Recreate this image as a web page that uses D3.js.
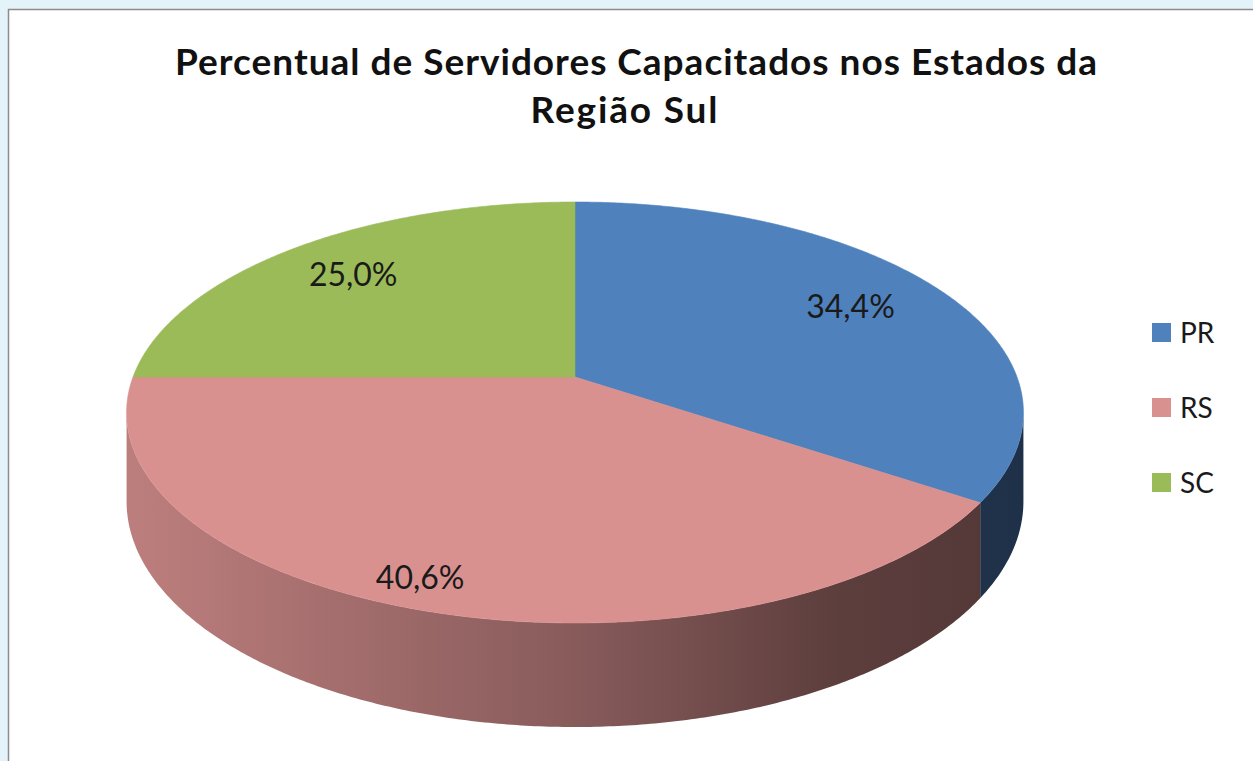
<!DOCTYPE html>
<html>
<head>
<meta charset="utf-8">
<script src="https://cdn.jsdelivr.net/npm/d3@7"></script>
<style>
  html, body { margin: 0; padding: 0; background: #e4f2fa; }
  svg { display: block; }
</style>
</head>
<body>
<svg id="chart" width="1253" height="761"></svg>
<script>
// dados do gráfico
const categories = ["PR", "RS", "SC"];
const values = [34.4, 40.6, 25.0];
const labels = ["34,4%", "40,6%", "25,0%"];
const colors = ["#4f81bd", "#d99190", "#9bbb59"];
const titleLines = ["Percentual de Servidores Capacitados nos Estados da", "Região Sul"];

const width = 1253, height = 761;
const svg = d3.select("#chart");

// fundo / área do gráfico
svg.append("rect").attr("x", 8.5).attr("y", 9.5).attr("width", width).attr("height", height)
   .attr("fill", "#ffffff").attr("stroke", "#8c8c8c").attr("stroke-width", 1.5);

// título
const titleFit = [[636, 75, 922], [624, 123, 187]];
titleLines.forEach((t, i) => {
  svg.append("text")
     .attr("x", titleFit[i][0]).attr("y", titleFit[i][1])
     .attr("text-anchor", "middle")
     .attr("font-family", "Lato, 'Open Sans', sans-serif")
     .attr("font-weight", "bold")
     .attr("font-size", 37)
     .attr("textLength", titleFit[i][2])
     .attr("lengthAdjust", "spacing")
     .attr("fill", "#111")
     .text(t);
});

// projeção em perspectiva do disco
const cx = 575, cy = 377, RX = 442, KY = 204.5, D = 5.93, H = 86.5;
function project(a, r, z) {
  const u = Math.sin(a) * r, v = -Math.cos(a) * r;
  const s = D / (D - v);
  return [cx + RX * u * s, cy + KY * v * s + z * H * s];
}
// ângulos da silhueta lateral (x extremo)
const aS = Math.acos(-1 / D), aE = 2 * Math.PI - aS;

const pie = d3.pie().sort(null).value(d => d)(values);

const defs = svg.append("defs");
colors.forEach((c, i) => {
  const g = defs.append("linearGradient").attr("id", "side" + i)
    .attr("gradientUnits", "userSpaceOnUse")
    .attr("x1", cx - RX).attr("x2", cx + RX).attr("y1", 0).attr("y2", 0);
  g.append("stop").attr("offset", "0%").attr("stop-color", d3.color(c).darker(0.4));
  g.append("stop").attr("offset", "50%").attr("stop-color", d3.color(c).darker(1.3));
  g.append("stop").attr("offset", "80%").attr("stop-color", d3.color(c).darker(2.4));
  g.append("stop").attr("offset", "100%").attr("stop-color", d3.color(c).darker(2.7));
});

const line = d3.line();
const step = Math.PI / 360;
function arcPts(a0, a1, r, z) {
  const n = Math.max(2, Math.ceil((a1 - a0) / step));
  return d3.range(n + 1).map(k => project(a0 + (a1 - a0) * k / n, r, z));
}

// paredes laterais: apenas a parte frontal de cada fatia
function sidePath(p) {
  const a0 = Math.max(p.startAngle, aS), a1 = Math.min(p.endAngle, aE);
  if (a1 <= a0) return null;
  const pts = arcPts(a0, a1, 1, 0).concat(arcPts(a0, a1, 1, 1).reverse());
  return line(pts) + "Z";
}
svg.append("g").selectAll("path").data(pie).join("path")
   .attr("d", sidePath)
   .attr("fill", (d, i) => "url(#side" + i + ")");

// faces superiores
function topPath(p) {
  return line([project(0, 0, 0)].concat(arcPts(p.startAngle, p.endAngle, 1, 0))) + "Z";
}
svg.append("g").selectAll("path").data(pie).join("path")
   .attr("d", topPath)
   .attr("fill", (d, i) => colors[i])
   .attr("stroke", (d, i) => colors[i])
   .attr("stroke-width", 0.6);

// rótulos de dados
svg.append("g").selectAll("text").data(pie).join("text")
   .attr("transform", d => {
     const m = (d.startAngle + d.endAngle) / 2;
     const r = 0.76 + 0.14 * Math.max(0, -Math.cos(m));
     const [x, y] = project(m + 0.04 * Math.max(0, -Math.cos(m)), r, 0);
     return `translate(${x - 4},${y - 1})`;
   })
   .attr("text-anchor", "middle")
   .attr("dy", "0.35em")
   .attr("font-family", "Lato, 'Open Sans', sans-serif")
   .attr("font-size", 32)
   .attr("fill", "#1a1a1a")
   .text((d, i) => labels[i]);

// legenda
const legend = svg.append("g").selectAll("g").data(categories).join("g")
   .attr("transform", (d, i) => `translate(1152,${323 + i * 75})`);
legend.append("rect").attr("width", 19).attr("height", 19).attr("fill", (d, i) => colors[i]);
legend.append("text").attr("x", 28).attr("y", 10).attr("dy", "0.35em")
   .attr("font-family", "Lato, 'Open Sans', sans-serif")
   .attr("font-size", 28).attr("fill", "#1a1a1a")
   .text(d => d);
</script>
</body>
</html>
